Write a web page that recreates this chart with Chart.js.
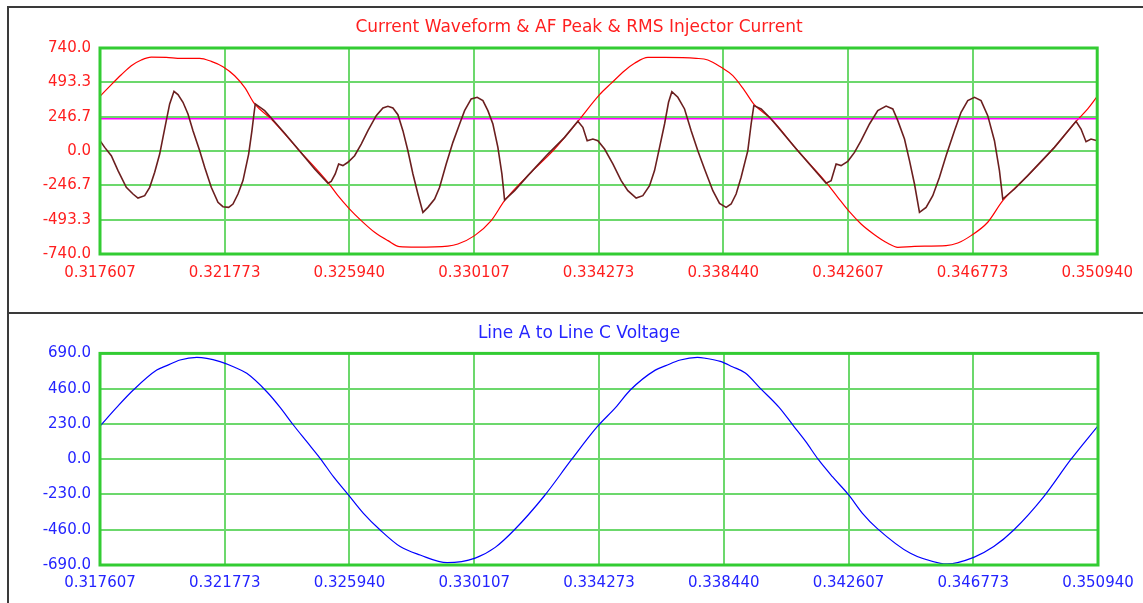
<!DOCTYPE html>
<html>
<head>
<meta charset="utf-8">
<title>Current Waveform & Line Voltage</title>
<script src="https://cdn.jsdelivr.net/npm/chart.js@4.4.1/dist/chart.umd.min.js"></script>
<style>
  body { margin: 0; background: #fff; overflow: hidden; }
  #page { position: relative; width: 1143px; height: 603px; }
  canvas { position: absolute; left: 0; }
  #current-chart { top: 0; }
  #voltage-chart { top: 314px; }
  .frame { position: absolute; background: #3a3a3a; }
</style>
</head>
<body>
<div id="page">
  <canvas id="current-chart" width="1143" height="313"></canvas>
  <canvas id="voltage-chart" width="1143" height="289"></canvas>
  <div class="frame" style="left:7px;top:6px;width:1136px;height:2px"></div>
  <div class="frame" style="left:7px;top:6px;width:2px;height:597px"></div>
  <div class="frame" style="left:7px;top:312px;width:1136px;height:2px"></div>
</div>
<script>
// time axis (s)
const xTickLabels = ['0.317607', '0.321773', '0.325940', '0.330107', '0.334273', '0.338440', '0.342607', '0.346773', '0.350940'];
const currentTickLabels = ['740.0', '493.3', '246.7', '0.0', '-246.7', '-493.3', '-740.0'];
const voltageTickLabels = ['690.0', '460.0', '230.0', '0.0', '-230.0', '-460.0', '-690.0'];

// injector current waveform (A)
const currentTime = [
    0.317607, 0.317764, 0.317985, 0.318209, 0.318486, 0.318710, 0.318877, 0.319101, 0.319268, 0.319435,
    0.319602, 0.319712, 0.319823, 0.319936, 0.320080, 0.320214, 0.320381, 0.320548, 0.320715, 0.320939,
    0.321106, 0.321326, 0.321550, 0.321717, 0.321908, 0.322052, 0.322219, 0.322386, 0.322576, 0.322686,
    0.322753, 0.322797, 0.323111, 0.323331, 0.323779, 0.324224, 0.324782, 0.325226, 0.325336, 0.325470,
    0.325584, 0.325727, 0.325894, 0.326118, 0.326339, 0.326563, 0.326840, 0.327064, 0.327231, 0.327398,
    0.327565, 0.327732, 0.327899, 0.328067, 0.328234, 0.328401, 0.328568, 0.328792, 0.328959, 0.329179,
    0.329403, 0.329627, 0.329794, 0.330015, 0.330215, 0.330406, 0.330573, 0.330740, 0.330907, 0.331041,
    0.331131, 0.331465, 0.331910, 0.332578, 0.333136, 0.333580, 0.333747, 0.333891, 0.334082, 0.334249,
    0.334473, 0.334750, 0.335027, 0.335251, 0.335529, 0.335752, 0.335976, 0.336143, 0.336311, 0.336478,
    0.336611, 0.336722, 0.336922, 0.337146, 0.337367, 0.337590, 0.337814, 0.338092, 0.338316, 0.338536,
    0.338703, 0.338870, 0.339037, 0.339261, 0.339372, 0.339462, 0.339706, 0.340040, 0.340932, 0.341878,
    0.342045, 0.342212, 0.342379, 0.342603, 0.342827, 0.343047, 0.343328, 0.343605, 0.343883, 0.344107,
    0.344274, 0.344498, 0.344665, 0.344832, 0.344999, 0.345220, 0.345443, 0.345667, 0.345888, 0.346169,
    0.346389, 0.346613, 0.346837, 0.347057, 0.347281, 0.347505, 0.347672, 0.347783, 0.348174, 0.348618,
    0.349510, 0.350232, 0.350399, 0.350566, 0.350733, 0.350940
];
const currentAmps = [
    74, 26, -34, -141, -261, -309, -338, -321, -261, -153,
    -22, 98, 218, 338, 429, 405, 350, 266, 146, 2,
    -117, -261, -369, -400, -405, -381, -309, -213, -22, 146,
    266, 338, 290, 237, 127, 14, -129, -232, -218, -165,
    -93, -105, -81, -34, 50, 146, 254, 309, 321, 309,
    261, 146, 2, -165, -309, -441, -405, -345, -261, -93,
    62, 194, 290, 374, 386, 362, 290, 194, 26, -165,
    -352, -285, -177, -22, 98, 213, 170, 74, 86, 74,
    14, -93, -213, -285, -338, -321, -249, -141, 26, 194,
    350, 426, 386, 302, 146, 2, -129, -285, -376, -405,
    -381, -309, -189, 2, 194, 326, 302, 230, 2, -232,
    -213, -93, -105, -74, -10, 74, 194, 290, 323, 302,
    218, 86, -69, -237, -441, -405, -321, -189, -34, 146,
    278, 362, 386, 362, 254, 74, -141, -345, -273, -177,
    26, 213, 158, 67, 86, 74
];

// AF peak envelope (A)
const peakTime = [
    0.317607, 0.317985, 0.318319, 0.318653, 0.318987, 0.319321, 0.319823, 0.320324, 0.320939, 0.321326,
    0.321717, 0.322108, 0.322442, 0.322777, 0.323331, 0.324224, 0.325226, 0.325560, 0.325951, 0.326339,
    0.326787, 0.327231, 0.327622, 0.328177, 0.329236, 0.329570, 0.330128, 0.330683, 0.331131, 0.332133,
    0.332802, 0.333580, 0.334306, 0.334693, 0.335141, 0.335475, 0.335920, 0.336478, 0.337534, 0.337925,
    0.338369, 0.338760, 0.339151, 0.339485, 0.340040, 0.340932, 0.341878, 0.342269, 0.342626, 0.343047,
    0.343495, 0.343940, 0.344274, 0.344832, 0.345888, 0.346279, 0.346723, 0.347281, 0.347783, 0.348618,
    0.349510, 0.350232, 0.350623, 0.350940
];
const peakAmps = [
    393, 477, 548, 613, 654, 675, 673, 666, 666, 644,
    606, 541, 457, 338, 230, 14, -225, -321, -417, -500,
    -584, -644, -687, -690, -683, -668, -608, -500, -357, -129,
    14, 213, 405, 486, 577, 630, 673, 673, 666, 654,
    601, 541, 434, 331, 230, 2, -225, -333, -429, -524,
    -601, -663, -692, -685, -680, -661, -608, -512, -357, -177,
    26, 213, 302, 392
];

// RMS injector current (A)
const rmsLevel = 232;

// line A to line C voltage (V)
const voltageTime = [
    0.317607, 0.318165, 0.318720, 0.319502, 0.319836, 0.320280, 0.320838, 0.321173, 0.321617, 0.322062,
    0.322509, 0.323178, 0.323622, 0.324066, 0.324514, 0.324959, 0.325403, 0.325904, 0.326406, 0.326964,
    0.327632, 0.328300, 0.329203, 0.330138, 0.330807, 0.331442, 0.332444, 0.333346, 0.334215, 0.334832,
    0.335318, 0.336153, 0.336503, 0.336989, 0.337557, 0.337840, 0.338326, 0.338729, 0.339161, 0.339662,
    0.340289, 0.340775, 0.341181, 0.341610, 0.342070, 0.342613, 0.343073, 0.343562, 0.344675, 0.345677,
    0.345901, 0.346790, 0.347458, 0.348127, 0.349129, 0.350021, 0.350940
];
const voltageValues = [
    216, 338, 451, 581, 610, 647, 664, 658, 636, 603,
    560, 440, 338, 223, 114, 6, -114, -233, -353, -462,
    -570, -625, -675, -645, -575, -462, -240, -5, 212, 338,
    451, 581, 610, 647, 664, 658, 638, 603, 562, 462,
    338, 216, 114, -5, -114, -233, -353, -451, -614, -679,
    -683, -640, -570, -462, -244, -5, 218
];

const xMin = 0.317607;
const xMax = 0.350940;
const gridGreen = '#6cd86c';
const frameGreen = '#33cc33';
const axisFont = { family: 'DejaVu Sans', size: 15 };

function toPoints(xs, ys) {
    return xs.map((x, i) => ({ x: x, y: ys[i] }));
}

const plotFrame = {
    id: 'plotFrame',
    afterDatasetsDraw(chart) {
        const ctx = chart.ctx;
        const a = chart.chartArea;
        ctx.save();
        ctx.strokeStyle = frameGreen;
        ctx.lineWidth = 3;
        ctx.strokeRect(a.left, a.top, a.right - a.left, a.bottom - a.top);
        ctx.restore();
    }
};

// centre the title on the whole framed panel, not on the padded box
const panelTitle = {
    id: 'panelTitle',
    afterLayout(chart) {
        if (chart.titleBlock) {
            chart.titleBlock.left = 15;
            chart.titleBlock.right = chart.width;
        }
    }
};

function buildChart(canvasId, cfg) {
    const ctx = document.getElementById(canvasId).getContext('2d');
    return new Chart(ctx, {
        type: 'line',
        data: { datasets: cfg.datasets },
        options: {
            responsive: false,
            animation: false,
            events: [],
            layout: { padding: cfg.padding },
            elements: { point: { radius: 0 }, line: { tension: 0 } },
            plugins: {
                legend: { display: false },
                tooltip: { enabled: false },
                title: {
                    display: true,
                    text: cfg.title,
                    color: cfg.textColor,
                    font: { family: 'DejaVu Sans', size: 17, weight: 'normal' },
                    padding: cfg.titlePadding
                }
            },
            scales: {
                x: {
                    type: 'linear',
                    min: xMin,
                    max: xMax,
                    afterFit: scale => { scale.height = cfg.xAxisHeight; },
                    afterBuildTicks: scale => {
                        scale.ticks = xTickLabels.map(l => ({ value: parseFloat(l) }));
                    },
                    grid: { color: gridGreen, lineWidth: 2, drawTicks: false },
                    border: { display: false },
                    ticks: {
                        autoSkip: false,
                        maxRotation: 0,
                        padding: cfg.xTickPadding,
                        color: cfg.textColor,
                        font: axisFont,
                        callback: (value, index) => xTickLabels[index]
                    }
                },
                y: {
                    min: -parseFloat(cfg.yLabels[0]),
                    max: parseFloat(cfg.yLabels[0]),
                    afterFit: scale => { scale.width = 90; },
                    afterBuildTicks: scale => {
                        scale.ticks = cfg.yLabels.map(l => ({ value: parseFloat(l) }));
                    },
                    grid: { color: gridGreen, lineWidth: 2, drawTicks: false },
                    border: { display: false },
                    ticks: {
                        autoSkip: false,
                        padding: 9,
                        color: cfg.textColor,
                        font: axisFont,
                        callback: (value, index) => cfg.yLabels[index]
                    }
                }
            }
        },
        plugins: [plotFrame, panelTitle]
    });
}

buildChart('current-chart', {
    title: 'Current Waveform & AF Peak & RMS Injector Current',
    textColor: '#ff1f1f',
    yLabels: currentTickLabels,
    padding: { left: 10, right: 45, top: 0, bottom: 19 },
    titlePadding: { top: 17, bottom: 10.6 },
    xAxisHeight: 40,
    xTickPadding: 10,
    datasets: [
        {
            label: 'Injector Current',
            data: toPoints(currentTime, currentAmps),
            borderColor: '#6b1f1f',
            borderWidth: 1.6
        },
        {
            label: 'RMS Injector Current',
            data: [{ x: xMin, y: rmsLevel }, { x: xMax, y: rmsLevel }],
            borderColor: '#ff00ff',
            borderWidth: 1.6
        },
        {
            label: 'AF Peak',
            data: toPoints(peakTime, peakAmps),
            borderColor: '#ff0000',
            borderWidth: 1.2,
            cubicInterpolationMode: 'monotone'
        }
    ]
});

buildChart('voltage-chart', {
    title: 'Line A to Line C Voltage',
    textColor: '#2424ff',
    yLabels: voltageTickLabels,
    padding: { left: 10, right: 45, top: 0, bottom: 8 },
    titlePadding: { top: 9, bottom: 10 },
    xAxisHeight: 30,
    xTickPadding: 9,
    datasets: [
        {
            label: 'Line A to Line C Voltage',
            data: toPoints(voltageTime, voltageValues),
            borderColor: '#0000ff',
            borderWidth: 1.2,
            cubicInterpolationMode: 'monotone'
        }
    ]
});
</script>
</body>
</html>
